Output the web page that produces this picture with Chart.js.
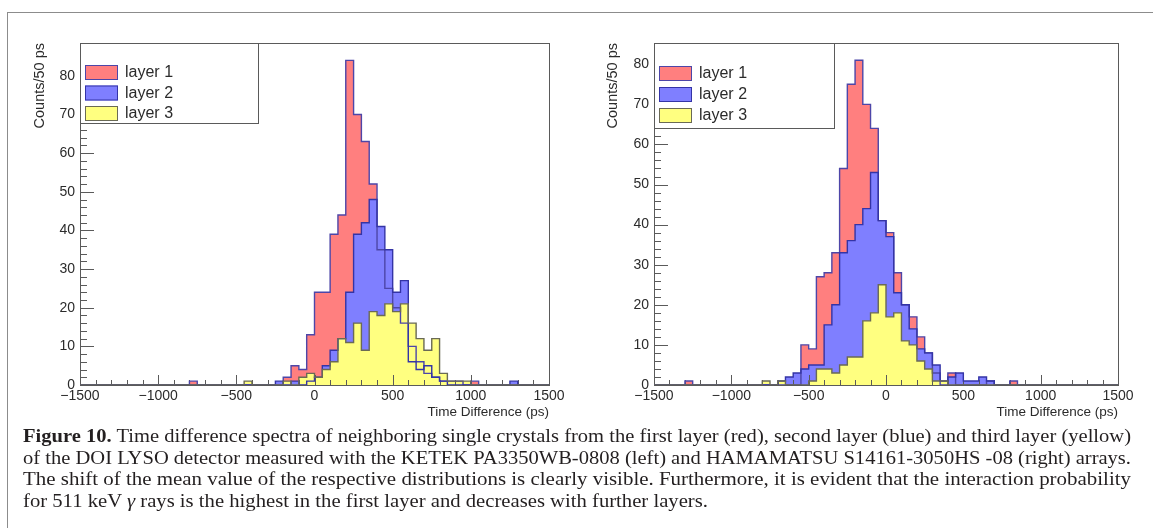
<!DOCTYPE html>
<html>
<head>
<meta charset="utf-8">
<script src="https://cdn.jsdelivr.net/npm/chart.js@4.4.0/dist/chart.umd.min.js"></script>
<style>
  body { margin: 0; width: 1153px; height: 528px; background: #fff; overflow: hidden; position: relative; }
  #frame { position: absolute; left: 7px; top: 12px; width: 1300px; height: 700px;
           border-top: 1px solid #8c8c8c; border-left: 1px solid #8c8c8c; }
  .panel { position: absolute; top: 0; }
  #caption { position: absolute; left: 23px; top: 425px; width: 1110px;
             font-family: "Liberation Serif", serif; font-size: 19px; line-height: 21.5px; color: #231f20; }
  #caption div { white-space: nowrap; height: 21.5px; }
  #caption span { display: inline-block; transform-origin: 0 50%; }
</style>
</head>
<body>
<div id="frame"></div>
<canvas id="ketek" class="panel" style="left:0px" width="576" height="430"></canvas>
<canvas id="hamamatsu" class="panel" style="left:576px" width="577" height="430"></canvas>
<div id="caption">
  <div><span><b>Figure 10.</b> Time difference spectra of neighboring single crystals from the first layer (red), second layer (blue) and third layer (yellow)</span></div>
  <div><span>of the DOI LYSO detector measured with the KETEK PA3350WB-0808 (left) and HAMAMATSU S14161-3050HS -08 (right) arrays.</span></div>
  <div><span>The shift of the mean value of the respective distributions is clearly visible. Furthermore, it is evident that the interaction probability</span></div>
  <div><span>for 511 keV <i>γ</i> rays is the highest in the first layer and decreases with further layers.</span></div>
</div>
<script>
// histogram binning: 60 bins of 50 ps from -1500 to 1500 ps
const binWidth = 50;
const xMin = -1500;
const xMax = 1500;
const xTickStep = 500;
const yTickStep = 10;

const layerNames = ['layer 1', 'layer 2', 'layer 3'];
const fillColors = ['#ff7f7f', '#7f7fff', '#ffff80'];
const lineColors = ['#4d46a8', '#3434a6', '#6a6a55'];

// KETEK PA3350WB-0808, counts per bin
const ketekLayer1 = [
  0, 0, 0, 0, 0, 0, 0, 0, 0, 0,
  0, 0, 0, 0, 1, 0, 0, 0, 0, 0,
  0, 0, 0, 0, 0, 0, 2, 5, 4, 13,
  24, 24, 39, 44, 84, 70, 63, 52, 35, 25,
  20, 16, 10, 6, 3, 2, 1, 1, 1, 0,
  1, 0, 0, 0, 0, 0, 0, 0, 0, 0
];
const ketekLayer2 = [
  0, 0, 0, 0, 0, 0, 0, 0, 0, 0,
  0, 0, 0, 0, 0, 0, 0, 0, 0, 0,
  0, 0, 0, 0, 0, 1, 0, 1, 0, 1,
  2, 5, 9, 12, 24, 39, 42, 48, 41, 35,
  24, 27, 6, 4, 5, 2, 1, 0, 0, 0,
  0, 0, 0, 0, 0, 1, 0, 0, 0, 0
];
const ketekLayer3 = [
  0, 0, 0, 0, 0, 0, 0, 0, 0, 0,
  0, 0, 0, 0, 0, 0, 0, 0, 0, 0,
  0, 1, 0, 0, 0, 0, 1, 0, 2, 3,
  2, 4, 6, 12, 11, 16, 9, 19, 18, 21,
  19, 21, 16, 12, 9, 12, 3, 1, 1, 1,
  0, 0, 0, 0, 0, 0, 0, 0, 0, 0
];

// HAMAMATSU S14161-3050HS-08, counts per bin
const hamaLayer1 = [
  0, 0, 0, 0, 1, 0, 0, 0, 0, 0,
  0, 0, 0, 0, 0, 0, 0, 0, 0, 10,
  9, 27, 28, 33, 54, 75, 81, 70, 64, 41,
  38, 28, 20, 17, 12, 8, 3, 0, 3, 0,
  0, 0, 0, 1, 0, 0, 1, 0, 0, 0,
  0, 0, 0, 0, 0, 0, 0, 0, 0, 0
];
const hamaLayer2 = [
  0, 0, 0, 0, 0, 0, 0, 0, 0, 0,
  0, 0, 0, 0, 0, 0, 1, 2, 3, 4,
  5, 5, 15, 20, 33, 36, 40, 44, 53, 41,
  37, 23, 20, 14, 9, 8, 5, 1, 2, 3,
  1, 1, 2, 1, 0, 0, 0, 0, 0, 0,
  0, 0, 0, 0, 0, 0, 0, 0, 0, 0
];
const hamaLayer3 = [
  0, 0, 0, 0, 0, 0, 0, 0, 0, 0,
  0, 0, 0, 0, 1, 0, 1, 0, 0, 0,
  1, 4, 4, 3, 5, 7, 7, 16, 18, 25,
  17, 18, 11, 10, 6, 4, 1, 1, 0, 0,
  0, 0, 0, 0, 0, 0, 0, 0, 0, 0,
  0, 0, 0, 0, 0, 0, 0, 0, 0, 0
];

const axisFont = { family: 'Liberation Sans', size: 14 };
const textColor = '#2b2b2b';

// bin counts -> closed step outline starting and ending on the baseline
function histPoints(counts) {
  const pts = [{ x: xMin, y: 0 }];
  counts.forEach((c, i) => pts.push({ x: xMin + i * binWidth, y: c }));
  pts.push({ x: xMin + counts.length * binWidth, y: counts[counts.length - 1] });
  pts.push({ x: xMin + counts.length * binWidth, y: 0 });
  return pts;
}

function minus(v) {
  return v < 0 ? '\u2212' + Math.abs(v) : String(v);
}

// ROOT style frame, inward ticks and boxed legend
const rootFrame = {
  id: 'rootFrame',
  beforeDatasetsDraw(chart) {
    const { ctx, chartArea: a, scales: { x, y } } = chart;
    ctx.save();
    ctx.strokeStyle = '#5a5a5a';
    ctx.lineWidth = 1;
    ctx.strokeRect(Math.round(a.left) + 0.5, Math.round(a.top) + 0.5,
                   Math.round(a.right - a.left), Math.round(a.bottom - a.top));
    ctx.beginPath();
    for (let v = xMin; v <= xMax; v += 100) {
      const px = Math.round(x.getPixelForValue(v)) + 0.5;
      const len = v % xTickStep === 0 ? 10 : 5;
      ctx.moveTo(px, a.bottom);
      ctx.lineTo(px, a.bottom - len);
    }
    for (let v = 0; v <= y.max; v += 2) {
      const py = Math.round(y.getPixelForValue(v)) + 0.5;
      const len = v % yTickStep === 0 ? 14 : 7;
      ctx.moveTo(a.left, py);
      ctx.lineTo(a.left + len, py);
    }
    ctx.stroke();
    ctx.restore();
  },
  afterDraw(chart, args, opts) {
    const { ctx, chartArea: a } = chart;
    const w = opts.width, h = opts.height;
    ctx.save();
    ctx.fillStyle = '#fff';
    ctx.fillRect(a.left, a.top, w, h);
    ctx.strokeStyle = '#5a5a5a';
    ctx.lineWidth = 1;
    ctx.strokeRect(Math.round(a.left) + 0.5, Math.round(a.top) + 0.5, w, h);
    ctx.font = '16px "Liberation Sans"';
    ctx.textBaseline = 'middle';
    chart.data.datasets.forEach((ds, k) => {
      const cy = a.top + opts.rows[k];
      ctx.fillStyle = ds.backgroundColor;
      ctx.fillRect(a.left + 5, cy - 7, 33, 15);
      ctx.strokeStyle = ds.borderColor;
      ctx.strokeRect(a.left + 5.5, cy - 6.5, 32, 14);
      ctx.fillStyle = textColor;
      ctx.fillText(ds.label, a.left + 45, cy + 1);
    });
    ctx.restore();
  }
};

function makeChart(id, series, yMax, box) {
  return new Chart(document.getElementById(id), {
    type: 'line',
    data: {
      datasets: series.map((counts, k) => ({
        label: layerNames[k],
        data: histPoints(counts),
        stepped: true,
        fill: 'origin',
        backgroundColor: fillColors[k],
        borderColor: lineColors[k],
        borderWidth: 1.4,
        pointRadius: 0,
        order: 3 - k
      }))
    },
    options: {
      responsive: false,
      animation: false,
      layout: { padding: { left: box.padLeft, right: box.padRight, top: box.top, bottom: box.padBottom } },
      scales: {
        x: {
          type: 'linear',
          min: xMin,
          max: xMax,
          grid: { display: false, drawTicks: false },
          border: { display: false },
          afterFit(s) { s.height = box.xHeight; },
          ticks: {
            stepSize: xTickStep,
            autoSkip: false,
            maxRotation: 0,
            padding: 3,
            color: textColor,
            font: axisFont,
            callback: v => minus(v)
          },
          title: {
            display: true,
            text: 'Time Difference (ps)',
            align: 'end',
            color: textColor,
            font: { family: 'Liberation Sans', size: 13.5 },
            padding: { top: 0, bottom: 2 }
          }
        },
        y: {
          min: 0,
          max: yMax,
          grid: { display: false, drawTicks: false },
          border: { display: false },
          afterFit(s) { s.width = box.yWidth; },
          ticks: {
            stepSize: yTickStep,
            includeBounds: false,
            padding: 5,
            color: textColor,
            font: axisFont
          },
          title: {
            display: true,
            text: 'Counts/50 ps',
            align: 'end',
            color: textColor,
            font: { family: 'Liberation Sans', size: 14.5 },
            padding: { top: 0, bottom: 0 }
          }
        }
      },
      plugins: {
        legend: { display: false },
        tooltip: { enabled: false },
        filler: { drawTime: 'beforeDatasetsDraw' },
        rootFrame: box.legend
      }
    },
    plugins: [rootFrame]
  });
}

makeChart('ketek', [ketekLayer1, ketekLayer2, ketekLayer3], 88.5, {
  padLeft: 31, yWidth: 49, padRight: 27, top: 43, xHeight: 37, padBottom: 8,
  legend: { width: 178, height: 80, rows: [29, 49.5, 70] }
});
makeChart('hamamatsu', [hamaLayer1, hamaLayer2, hamaLayer3], 85.3, {
  padLeft: 28, yWidth: 50, padRight: 35, top: 43, xHeight: 37, padBottom: 8,
  legend: { width: 180, height: 85, rows: [30, 51, 72] }
});

// squeeze the caption lines horizontally onto the full text width
const capWidth = 1108;
const capLines = Array.from(document.querySelectorAll('#caption span'));
let scaleSum = 0;
capLines.slice(0, -1).forEach(s => {
  const k = capWidth / s.getBoundingClientRect().width;
  s.style.transform = 'scaleX(' + k + ')';
  scaleSum += k;
});
capLines[capLines.length - 1].style.transform = 'scaleX(' + (scaleSum / (capLines.length - 1)) + ')';
</script>
</body>
</html>
